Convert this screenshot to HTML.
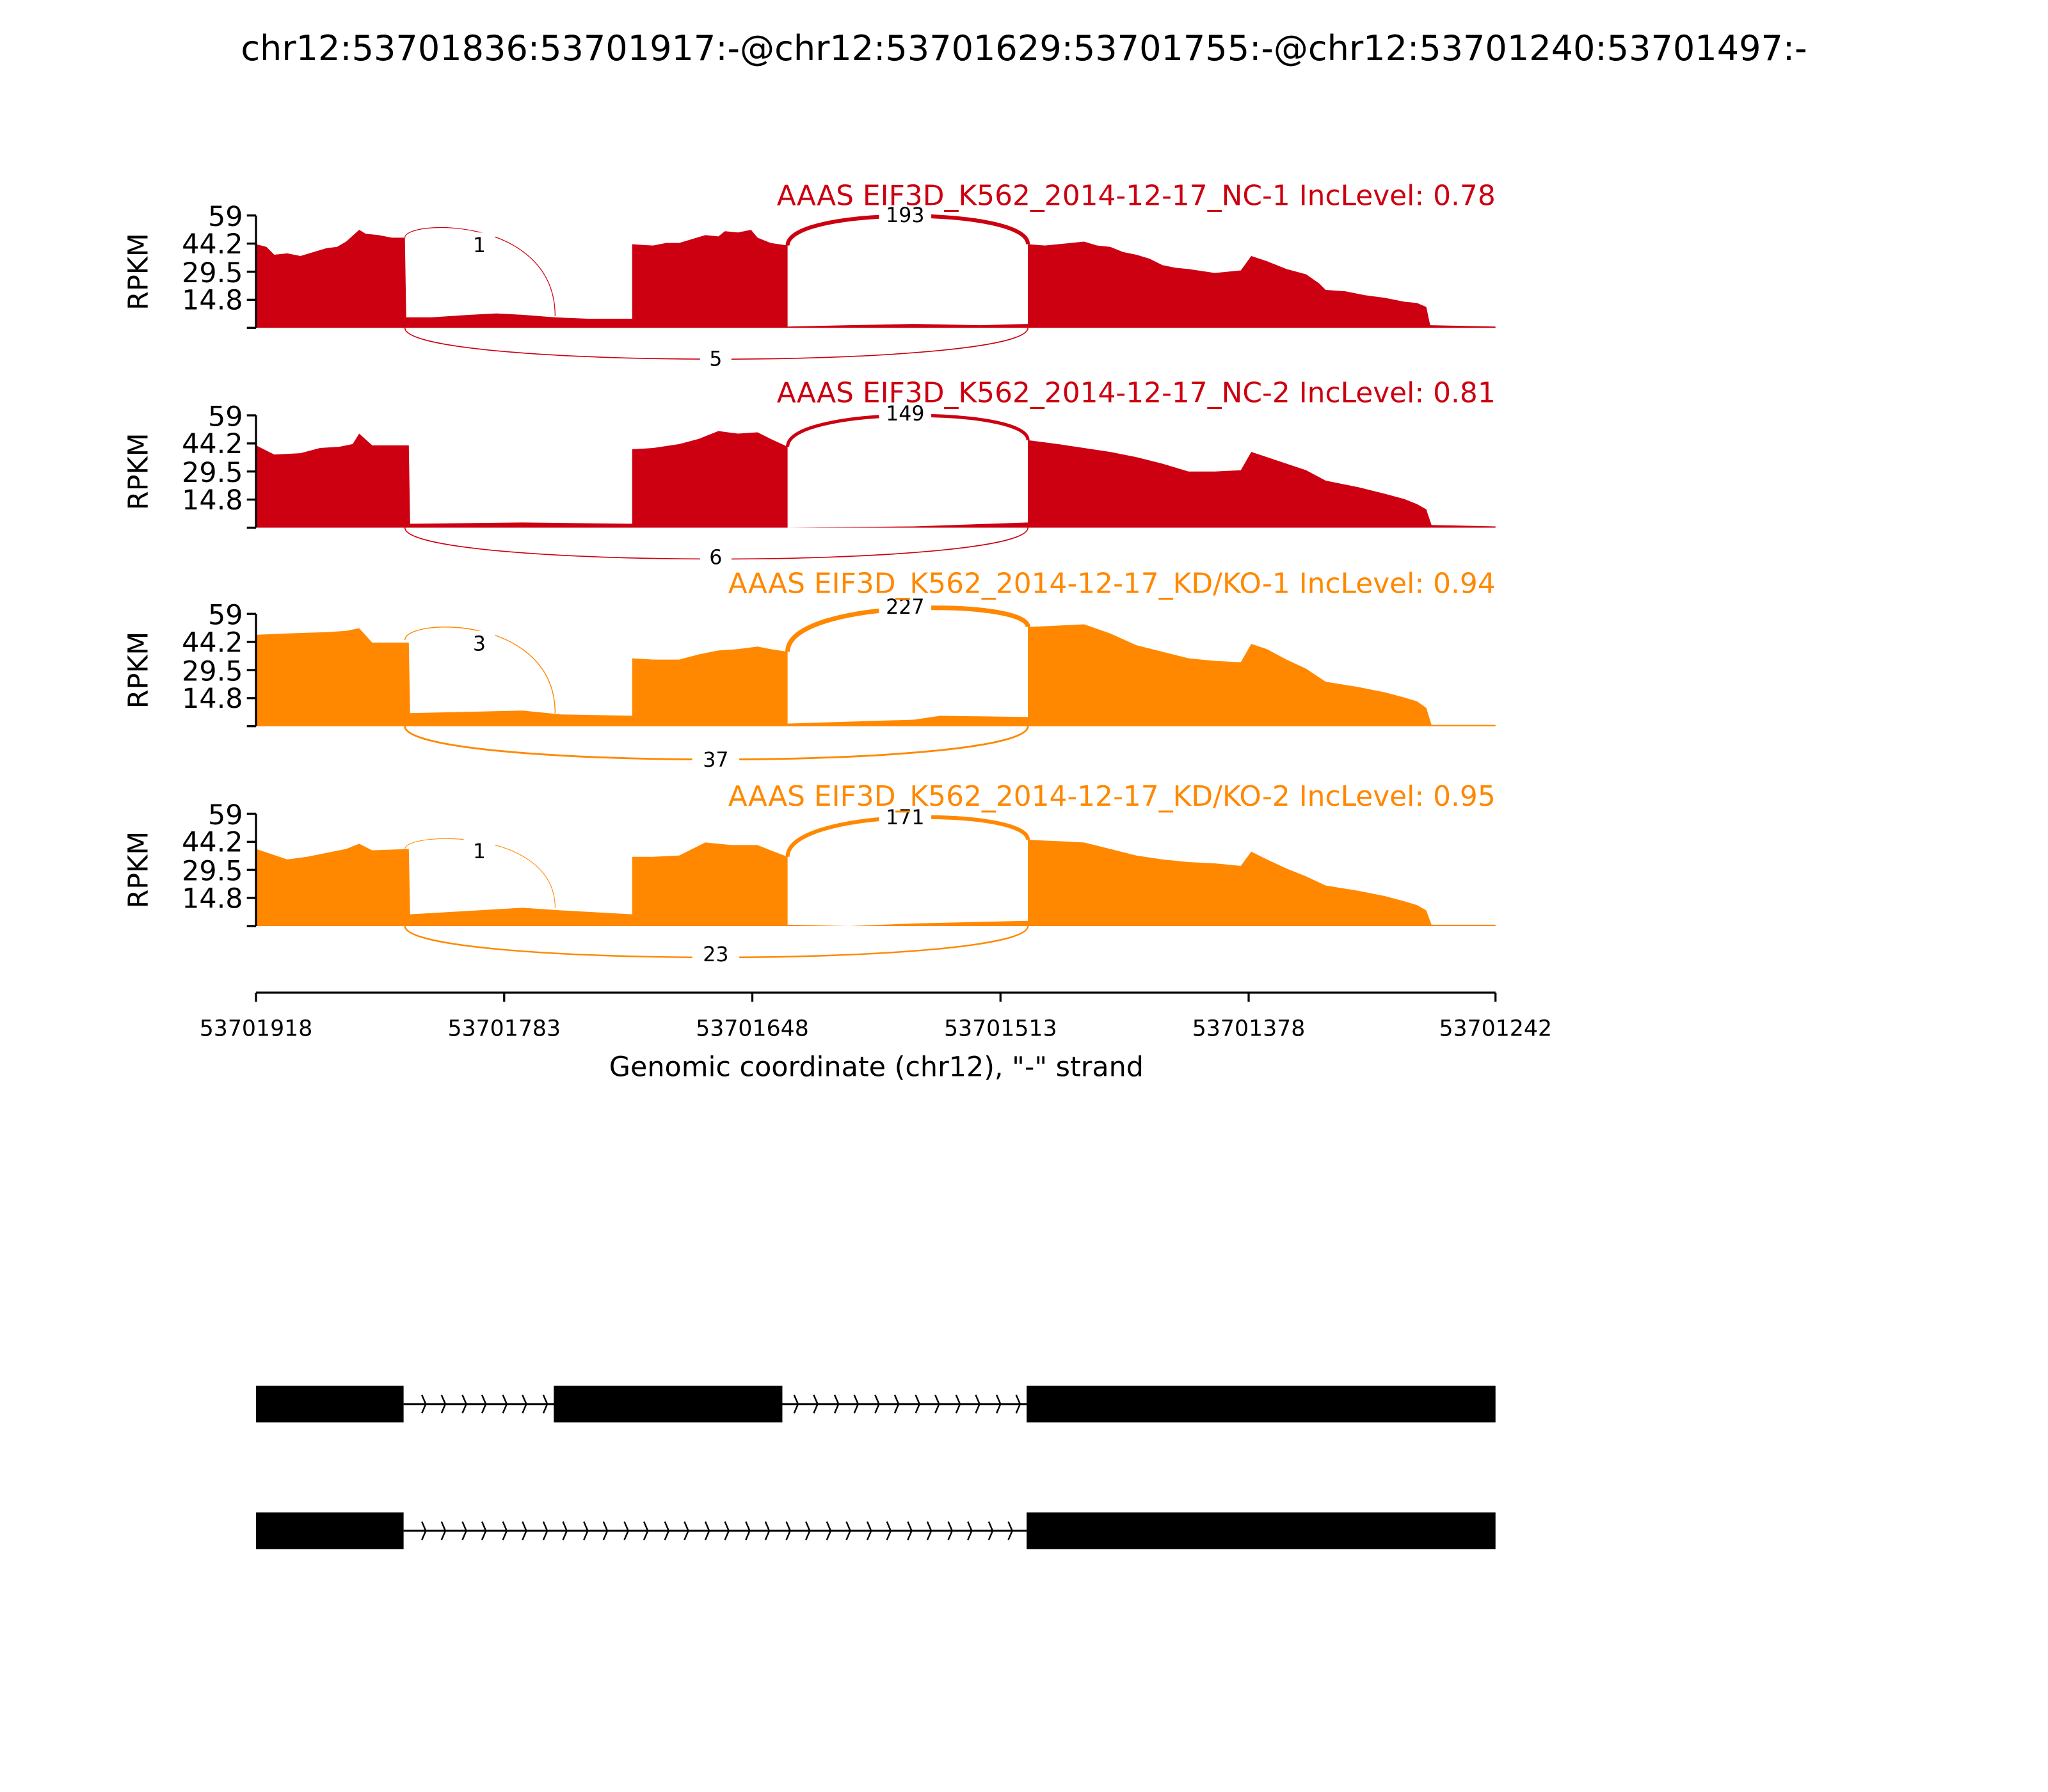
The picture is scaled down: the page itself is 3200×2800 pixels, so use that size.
<!DOCTYPE html>
<html><head><meta charset="utf-8"><style>html,body{margin:0;padding:0;background:#fff}svg{display:block}text{font-family:"DejaVu Sans","Liberation Sans",sans-serif}</style></head>
<body>
<svg xmlns="http://www.w3.org/2000/svg" width="3200" height="2800" viewBox="0 0 1568 1372">
<rect width="1568" height="1372" fill="#fff"/>
<text x="784" y="46" font-size="26.5" text-anchor="middle">chr12:53701836:53701917:-@chr12:53701629:53701755:-@chr12:53701240:53701497:-</text>

<defs>
<g id="yax">
<line x1="196" y1="0" x2="196" y2="86" stroke="#000" stroke-width="1.6"/>
<g stroke="#000" stroke-width="1.6">
<line x1="189" y1="0" x2="196" y2="0"/><line x1="189" y1="21.5" x2="196" y2="21.5"/><line x1="189" y1="43" x2="196" y2="43"/><line x1="189" y1="64.5" x2="196" y2="64.5"/><line x1="189" y1="86" x2="196" y2="86"/>
</g>
<g font-size="21" text-anchor="end"><text x="186" y="8">59</text><text x="186" y="29">44.2</text><text x="186" y="51">29.5</text><text x="186" y="72">14.8</text></g>
<text transform="translate(113,43) rotate(-90)" font-size="21" text-anchor="middle">RPKM</text>
</g>
</defs>

<!-- Track 1 -->
<g transform="translate(0,165)">
<polygon fill="#cc0011" points="196,86 196,22 200,23 204,24 210,30 220,29 230,31 240,28 250,25 258,24 265,20 275,11 280,14 290,15 300,17 310,17 311,78 330,78 345,77 360,76 380,75 400,76 425,78 450,79 484,79 484,22 500,23 510,21 520,21 530,18 540,15 550,16 555,12 565,13 575,11 580,17 590,21 603,23 603,85 650,84 700,83 750,84 787,83 787,22 800,23 810,22 820,21 830,20 840,23 850,24 860,28 870,30 880,33 890,38 900,40 910,41 930,44 950,42 958,31 970,35 985,41 1000,45 1010,52 1015,57 1030,58 1045,61 1060,63 1075,66 1085,67 1092,70 1095,84 1145,85 1145,86"/>
<use href="#yax"/>
<path d="M310,17 C310,3 425,0 425,77" fill="none" stroke="#cc0011" stroke-width="0.6"/>
<path d="M603,23 C603,-7 787,-7 787,22" fill="none" stroke="#cc0011" stroke-width="3"/>
<path d="M310,86 C310,118 787,118 787,86" fill="none" stroke="#cc0011" stroke-width="0.8"/>
<rect x="355" y="13" width="24" height="20" fill="#fff"/><text x="367" y="28" font-size="15.5" text-anchor="middle">1</text>
<rect x="673" y="-9" width="40" height="20" fill="#fff"/><text x="693" y="5" font-size="15.5" text-anchor="middle">193</text>
<rect x="536" y="100" width="24" height="20" fill="#fff"/><text x="548" y="115" font-size="15.5" text-anchor="middle">5</text>
<text x="1145" y="-8" font-size="21.5" fill="#cc0011" text-anchor="end">AAAS EIF3D_K562_2014-12-17_NC-1 IncLevel: 0.78</text>
</g>

<!-- Track 2 -->
<g transform="translate(0,318)">
<polygon fill="#cc0011" points="196,86 196,23 210,30 230,29 245,25 260,24 270,22 275,14 285,23 313,23 314,83 400,82 484,83 484,26 500,25 520,22 535,18 550,12 565,14 580,13 590,18 603,24 603,86 700,85 787,82 787,19 810,22 830,25 850,28 870,32 890,37 910,43 930,43 950,42 958,28 970,32 985,37 1000,42 1015,50 1040,55 1060,60 1075,64 1085,68 1092,72 1096,84 1145,85 1145,86"/>
<use href="#yax"/>
<path d="M603,24 C603,-7 787,-7 787,19" fill="none" stroke="#cc0011" stroke-width="2.5"/>
<path d="M310,86 C310,118 787,118 787,86" fill="none" stroke="#cc0011" stroke-width="0.8"/>
<rect x="673" y="-10" width="40" height="20" fill="#fff"/><text x="693" y="4" font-size="15.5" text-anchor="middle">149</text>
<rect x="536" y="99" width="24" height="20" fill="#fff"/><text x="548" y="114" font-size="15.5" text-anchor="middle">6</text>
<text x="1145" y="-10" font-size="21.5" fill="#cc0011" text-anchor="end">AAAS EIF3D_K562_2014-12-17_NC-2 IncLevel: 0.81</text>
</g>

<!-- Track 3 -->
<g transform="translate(0,470)">
<polygon fill="#ff8800" points="196,86 196,16 220,15 250,14 265,13 275,11 285,22 313,22 314,76 400,74 430,77 484,78 484,34 500,35 520,35 535,31 550,28 565,27 580,25 590,27 603,29 603,84 700,81 720,78 787,79 787,10 810,9 830,8 850,15 870,24 890,29 910,34 930,36 950,37 958,23 970,27 985,35 1000,42 1015,52 1040,56 1060,60 1075,64 1085,67 1092,72 1096,85 1145,85 1145,86"/>
<use href="#yax"/>
<path d="M310,20 C310,3 425,0 425,76" fill="none" stroke="#ff8800" stroke-width="0.7"/>
<path d="M603,29 C603,-12 787,-12 787,10" fill="none" stroke="#ff8800" stroke-width="3.5"/>
<path d="M310,86 C310,120 787,120 787,86" fill="none" stroke="#ff8800" stroke-width="1.4"/>
<rect x="355" y="13" width="24" height="20" fill="#fff"/><text x="367" y="28" font-size="15.5" text-anchor="middle">3</text>
<rect x="673" y="-14" width="40" height="20" fill="#fff"/><text x="693" y="0" font-size="15.5" text-anchor="middle">227</text>
<rect x="530" y="103" width="36" height="20" fill="#fff"/><text x="548" y="117" font-size="15.5" text-anchor="middle">37</text>
<text x="1145" y="-16" font-size="21.5" fill="#ff8800" text-anchor="end">AAAS EIF3D_K562_2014-12-17_KD/KO-1 IncLevel: 0.94</text>
</g>

<!-- Track 4 -->
<g transform="translate(0,623)">
<polygon fill="#ff8800" points="196,86 196,27 205,30 220,35 235,33 250,30 265,27 275,23 285,28 313,27 314,77 400,72 430,74 484,77 484,33 500,33 520,32 530,27 540,22 560,24 580,24 590,28 603,33 603,85 650,86 700,84 787,82 787,20 810,21 830,22 850,27 870,32 890,35 910,37 930,38 950,40 958,29 970,35 985,42 1000,48 1015,55 1040,59 1060,63 1075,67 1085,70 1092,74 1096,85 1145,85 1145,86"/>
<use href="#yax"/>
<path d="M310,27 C310,14 425,10 425,72" fill="none" stroke="#ff8800" stroke-width="0.5"/>
<path d="M603,33 C603,-5 787,-5 787,20" fill="none" stroke="#ff8800" stroke-width="3"/>
<path d="M310,86 C310,118 787,118 787,86" fill="none" stroke="#ff8800" stroke-width="1.2"/>
<rect x="355" y="19" width="24" height="20" fill="#fff"/><text x="367" y="34" font-size="15.5" text-anchor="middle">1</text>
<rect x="673" y="-6" width="40" height="20" fill="#fff"/><text x="693" y="8" font-size="15.5" text-anchor="middle">171</text>
<rect x="530" y="99" width="36" height="20" fill="#fff"/><text x="548" y="113" font-size="15.5" text-anchor="middle">23</text>
<text x="1145" y="-6" font-size="21.5" fill="#ff8800" text-anchor="end">AAAS EIF3D_K562_2014-12-17_KD/KO-2 IncLevel: 0.95</text>
</g>

<!-- X axis -->
<g stroke="#000" stroke-width="1.6">
<line x1="196" y1="760" x2="1145" y2="760"/>
<line x1="196" y1="760" x2="196" y2="767"/><line x1="386" y1="760" x2="386" y2="767"/><line x1="576" y1="760" x2="576" y2="767"/><line x1="766" y1="760" x2="766" y2="767"/><line x1="956" y1="760" x2="956" y2="767"/><line x1="1145" y1="760" x2="1145" y2="767"/>
</g>
<g font-size="17" text-anchor="middle">
<text x="196" y="793">53701918</text><text x="386" y="793">53701783</text><text x="576" y="793">53701648</text><text x="766" y="793">53701513</text><text x="956" y="793">53701378</text><text x="1145" y="793">53701242</text>
</g>
<text x="671" y="824" font-size="21" text-anchor="middle">Genomic coordinate (chr12), "-" strand</text>

<!-- Gene models -->
<g>
<line x1="309" y1="1075" x2="786" y2="1075" stroke="#000" stroke-width="1.5"/>
<rect x="196" y="1061" width="113" height="28" fill="#000"/>
<rect x="424" y="1061" width="175" height="28" fill="#000"/>
<rect x="786" y="1061" width="359" height="28" fill="#000"/>
<g fill="none" stroke="#000" stroke-width="1.2">
<path d="M323,1068 L326,1075 L323,1082 M338,1068 L341,1075 L338,1082 M354,1068 L357,1075 L354,1082 M369,1068 L372,1075 L369,1082 M385,1068 L388,1075 L385,1082 M400,1068 L403,1075 L400,1082 M416,1068 L419,1075 L416,1082"/>
<path d="M608,1068 L611,1075 L608,1082 M623,1068 L626,1075 L623,1082 M639,1068 L642,1075 L639,1082 M654,1068 L657,1075 L654,1082 M670,1068 L673,1075 L670,1082 M685,1068 L688,1075 L685,1082 M701,1068 L704,1075 L701,1082 M716,1068 L719,1075 L716,1082 M732,1068 L735,1075 L732,1082 M747,1068 L750,1075 L747,1082 M763,1068 L766,1075 L763,1082 M778,1068 L781,1075 L778,1082"/>
</g>
<line x1="309" y1="1172" x2="786" y2="1172" stroke="#000" stroke-width="1.5"/>
<rect x="196" y="1158" width="113" height="28" fill="#000"/>
<rect x="786" y="1158" width="359" height="28" fill="#000"/>
<g fill="none" stroke="#000" stroke-width="1.2">
<path d="M323,1165 L326,1172 L323,1179 M338,1165 L341,1172 L338,1179 M354,1165 L357,1172 L354,1179 M369,1165 L372,1172 L369,1179 M385,1165 L388,1172 L385,1179 M400,1165 L403,1172 L400,1179 M416,1165 L419,1172 L416,1179 M431,1165 L434,1172 L431,1179 M447,1165 L450,1172 L447,1179 M462,1165 L465,1172 L462,1179 M478,1165 L481,1172 L478,1179 M493,1165 L496,1172 L493,1179 M509,1165 L512,1172 L509,1179 M524,1165 L527,1172 L524,1179 M540,1165 L543,1172 L540,1179 M555,1165 L558,1172 L555,1179 M571,1165 L574,1172 L571,1179 M586,1165 L589,1172 L586,1179 M602,1165 L605,1172 L602,1179 M617,1165 L620,1172 L617,1179 M633,1165 L636,1172 L633,1179 M648,1165 L651,1172 L648,1179 M664,1165 L667,1172 L664,1179 M679,1165 L682,1172 L679,1179 M695,1165 L698,1172 L695,1179 M710,1165 L713,1172 L710,1179 M726,1165 L729,1172 L726,1179 M741,1165 L744,1172 L741,1179 M757,1165 L760,1172 L757,1179 M772,1165 L775,1172 L772,1179"/>
</g>
</g>
</svg>
</body></html>
